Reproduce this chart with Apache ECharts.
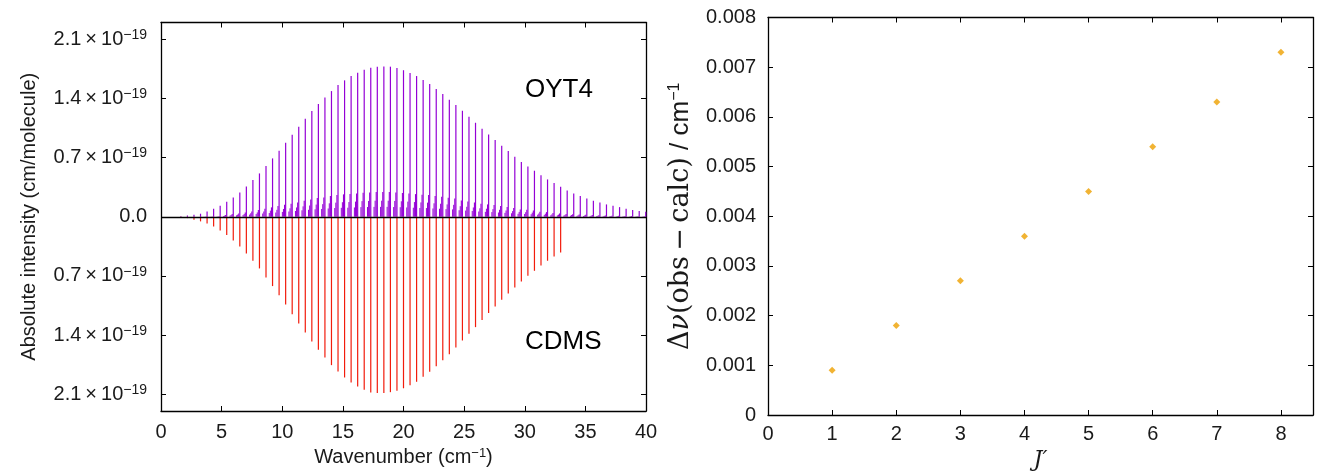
<!DOCTYPE html>
<html>
<head>
<meta charset="utf-8">
<script src="https://cdn.jsdelivr.net/npm/echarts@6/dist/echarts.min.js"></script>
<style>
html,body{margin:0;padding:0;background:#fff;}
#c{width:1327px;height:472px;}
</style>
</head>
<body>
<div id="c"></div>
<script>
// ---------- Left panel: stick spectrum (intensities in units of 1e-19 cm/molecule) ----------
var lineWavenumbers = [1.64,2.18,2.72,3.26,3.80,4.34,4.88,5.42,5.96,6.50,7.04,7.58,8.12,8.66,9.20,9.74,
  10.28,10.82,11.36,11.90,12.44,12.98,13.52,14.06,14.60,15.14,15.68,16.22,16.76,17.30,17.84,18.38,18.92,19.46,
  20.00,20.54,21.08,21.62,22.16,22.70,23.24,23.78,24.32,24.86,25.40,25.94,26.48,27.02,27.56,28.10,28.64,29.18,
  29.72,30.26,30.80,31.34,31.88,32.42,32.96,33.50,34.04,34.58,35.12,35.66,36.20,36.74,37.28,37.82,38.36,38.90,
  39.44,39.98];
var oyt4Main = [0.005,0.015,0.024,0.036,0.063,0.095,0.130,0.178,0.229,0.288,0.359,0.434,0.513,0.600,0.691,0.782,
  0.876,0.971,1.066,1.161,1.251,1.334,1.413,1.488,1.559,1.615,1.666,1.705,1.741,1.765,1.777,1.780,1.777,1.761,
  1.735,1.702,1.666,1.619,1.571,1.512,1.453,1.386,1.323,1.255,1.184,1.113,1.042,0.975,0.908,0.841,0.778,0.711,
  0.647,0.596,0.545,0.490,0.442,0.399,0.355,0.312,0.276,0.245,0.217,0.190,0.170,0.146,0.130,0.114,0.095,0.079,
  0.067,0.059];
var oyt4Hot1 = [0,0,0,0,0.002,0.003,0.006,0.020,0.032,0.039,0.051,0.063,0.079,0.095,0.111,0.126,0.142,0.154,
  0.170,0.190,0.205,0.221,0.229,0.245,0.257,0.265,0.268,0.276,0.284,0.288,0.292,0.292,0.292,0.288,0.282,0.276,
  0.268,0.261,0.257,0.245,0.237,0.225,0.217,0.193,0.182,0.170,0.154,0.146,0.138,0.126,0.114,0.103,0.087,0.083,
  0.075,0.059,0.055,0.043,0.039,0.034,0.030,0.026,0.023,0.020,0.017,0.015,0.013,0.011,0.009,0.008,0.007,0.006];
var oyt4Hot2 = [0,0,0,0,0.001,0.002,0.004,0.013,0.021,0.025,0.033,0.041,0.051,0.062,0.072,0.082,0.092,0.100,
  0.110,0.123,0.133,0.144,0.149,0.159,0.167,0.172,0.174,0.179,0.185,0.187,0.190,0.190,0.190,0.187,0.183,0.179,
  0.174,0.170,0.167,0.159,0.154,0.146,0.141,0.125,0.118,0.110,0.100,0.095,0.090,0.082,0.074,0.067,0.057,0.054,
  0.049,0.038,0.036,0.028,0.025,0.022,0.020,0.017,0.015,0.013,0.011,0.010,0.008,0.007,0.006,0.005,0.005,0.004];
var oyt4Hot3 = [0,0,0,0,0.001,0.001,0.002,0.008,0.013,0.016,0.020,0.025,0.032,0.038,0.044,0.050,0.057,0.062,
  0.068,0.076,0.082,0.088,0.092,0.098,0.103,0.106,0.107,0.110,0.114,0.115,0.117,0.117,0.117,0.115,0.113,0.110,
  0.107,0.104,0.103,0.098,0.095,0.090,0.087,0.077,0.073,0.068,0.062,0.058,0.055,0.050,0.046,0.041,0.035,0.033,
  0.030,0.024,0.022,0.017,0.016,0.014,0.012,0.010,0.009,0.008,0.007,0.006,0.005,0.004,0.004,0.003,0.003,0.002];
var hotBandShift = [-0.09, -0.18, -0.27]; // wavenumber shift of satellite lines
var cdmsMain = [0.005,0.016,0.036,0.055,0.079,0.114,0.162,0.217,0.280,0.351,0.434,0.521,0.612,0.719,0.821,0.928,
  1.038,1.153,1.263,1.370,1.476,1.575,1.666,1.757,1.832,1.903,1.962,2.009,2.049,2.080,2.088,2.088,2.077,2.061,
  2.031,1.994,1.954,1.895,1.836,1.769,1.698,1.627,1.548,1.465,1.386,1.307,1.224,1.141,1.062,0.983,0.908,0.837,
  0.766,0.699,0.640,0.576,0.521,0.470,0.422];
var intensityTicks = [-2.1,-1.4,-0.7,0,0.7,1.4,2.1];

// ---------- Right panel: residuals ----------
var jPrime = [1,2,3,4,5,6,7,8];
var residuals = [0.0009,0.0018,0.0027,0.0036,0.0045,0.0054,0.0063,0.0073];

var SANS = '"Liberation Sans", Arial, Helvetica, sans-serif';
var SERIF = '"DejaVu Serif", "Liberation Serif", serif';
var TXT = '#1a1a1a';

function pairs(xs, ys, shift, sign){
  var out = [];
  for (var i = 0; i < ys.length; i++) out.push([xs[i] + shift, sign * ys[i]]);
  return out;
}
function stick(color, width){
  return function(params, api){
    var x = api.value(0), y = api.value(1);
    var p0 = api.coord([x, 0]), p1 = api.coord([x, y]);
    return {type:'line', shape:{x1:p0[0], y1:p0[1], x2:p1[0], y2:p1[1]},
            style:{stroke:color, lineWidth:width}};
  };
}
function stickSeries(name, data, color, width, extra){
  var s = {name:name, type:'custom', xAxisIndex:0, yAxisIndex:0, data:data,
    encode:{x:0, y:1}, renderItem:stick(color, width), silent:true, animation:false};
  if (extra) for (var k in extra) s[k] = extra[k];
  return s;
}

var frameLine = {show:true, onZero:false, lineStyle:{color:'#000', width:1.3}};
var tickIn = {show:true, inside:true, length:5, lineStyle:{color:'#000', width:1}};
var PURPLE = '#9400d6', RED = '#f21c0c';

var option = {
  backgroundColor:'#fff',
  animation:false,
  grid:[
    {left:161, top:22.5, right:681, bottom:61, containLabel:false, outerBoundsMode:'none'},
    {left:768, top:17.5, right:14, bottom:57, containLabel:false, outerBoundsMode:'none'}
  ],
  xAxis:[
    {gridIndex:0, type:'value', min:0, max:40, interval:5, position:'bottom',
     axisLine:frameLine, axisTick:tickIn, splitLine:{show:false},
     axisLabel:{fontSize:20, fontFamily:SANS, color:TXT, margin:11},
     name:'{a|Wavenumber (cm}{s|−1}{a|)}', nameLocation:'middle', nameGap:33,
     nameTextStyle:{rich:{a:{fontSize:20, fontFamily:SANS, color:TXT, lineHeight:22},
                          s:{fontSize:13, fontFamily:SANS, color:TXT, verticalAlign:'top', lineHeight:13}}}},
    {gridIndex:0, type:'value', min:0, max:40, interval:5, position:'top',
     axisLine:frameLine, axisTick:tickIn, axisLabel:{show:false}, splitLine:{show:false}},
    {gridIndex:1, type:'value', min:0, max:8.5, interval:1, position:'bottom',
     axisLine:frameLine, axisTick:tickIn, splitLine:{show:false},
     axisLabel:{fontSize:20, fontFamily:SANS, color:TXT, margin:9, showMaxLabel:false},
     name:'J′', nameLocation:'middle', nameGap:33,
     nameTextStyle:{fontSize:22, fontFamily:SERIF, fontStyle:'italic', color:TXT}},
    {gridIndex:1, type:'value', min:0, max:8.5, interval:1, position:'top',
     axisLine:frameLine, axisTick:tickIn, axisLabel:{show:false}, splitLine:{show:false}}
  ],
  yAxis:[
    {gridIndex:0, type:'value', min:-2.3, max:2.3, position:'left',
     axisLine:frameLine,
     axisTick:{show:true, inside:true, length:5, lineStyle:{color:'#000', width:1}, customValues:intensityTicks},
     splitLine:{show:false},
     axisLabel:{customValues:intensityTicks, margin:14,
       formatter:function(v){
         if (Math.abs(v) < 1e-9) return '{m|0.0}';
         return '{m|' + Math.abs(v).toFixed(1) + '\u2009×\u200910}{s|−19}';
       },
       rich:{m:{fontSize:20, fontFamily:SANS, color:TXT, lineHeight:22},
             s:{fontSize:14, fontFamily:SANS, color:TXT, verticalAlign:'top', lineHeight:14}}},
     name:'Absolute intensity (cm/molecule)', nameLocation:'middle', nameGap:122, nameRotate:90,
     nameTextStyle:{fontSize:20, fontFamily:SANS, color:TXT}},
    {gridIndex:0, type:'value', min:-2.3, max:2.3, position:'right',
     axisLine:frameLine,
     axisTick:{show:true, inside:true, length:5, lineStyle:{color:'#000', width:1}, customValues:intensityTicks},
     axisLabel:{show:false}, splitLine:{show:false}},
    {gridIndex:1, type:'value', min:0, max:0.008, interval:0.001, position:'left',
     axisLine:frameLine, axisTick:tickIn, splitLine:{show:false},
     axisLabel:{fontSize:20, fontFamily:SANS, color:TXT, margin:12},
     name:'{d|Δ}{g|ν}{r|(obs\u2009−\u2009calc)}{a| / cm}{s|−1}', nameLocation:'middle', nameGap:73, nameRotate:90,
     nameTextStyle:{rich:{
       d:{fontSize:27, fontFamily:SERIF, color:TXT, lineHeight:28},
       g:{fontSize:27, fontFamily:SERIF, fontStyle:'italic', color:TXT, lineHeight:28},
       r:{fontSize:27, fontFamily:SERIF, color:TXT, lineHeight:28},
       a:{fontSize:26, fontFamily:SANS, color:TXT, lineHeight:28},
       s:{fontSize:16, fontFamily:SANS, color:TXT, verticalAlign:'top', lineHeight:16}}}},
    {gridIndex:1, type:'value', min:0, max:0.008, interval:0.001, position:'right',
     axisLine:frameLine, axisTick:tickIn, axisLabel:{show:false}, splitLine:{show:false}}
  ],
  series:[
    stickSeries('OYT4 hot 3', pairs(lineWavenumbers, oyt4Hot3, hotBandShift[2], 1), PURPLE, 1),
    stickSeries('OYT4 hot 2', pairs(lineWavenumbers, oyt4Hot2, hotBandShift[1], 1), PURPLE, 1),
    stickSeries('OYT4 hot 1', pairs(lineWavenumbers, oyt4Hot1, hotBandShift[0], 1), PURPLE, 1.1),
    stickSeries('CDMS', pairs(lineWavenumbers, cdmsMain, 0, -1), RED, 1.2, {
      markLine:{silent:true, symbol:'none', label:{show:false}, animation:false,
        lineStyle:{color:'#000', width:1.3, type:'solid'}, data:[{yAxis:0}]}
    }),
    stickSeries('OYT4', pairs(lineWavenumbers, oyt4Main, 0, 1), PURPLE, 1.2),
    {name:'residuals', type:'scatter', xAxisIndex:2, yAxisIndex:2,
     data:jPrime.map(function(j, i){ return [j, residuals[i]]; }),
     symbol:'diamond', symbolSize:7, itemStyle:{color:'#eea000'}, silent:true, animation:false}
  ],
  graphic:[
    {type:'text', left:525, top:77, style:{text:'OYT4', font:'26px "Liberation Sans", Arial, sans-serif', fill:'#000'}},
    {type:'text', left:525, top:329, style:{text:'CDMS', font:'26px "Liberation Sans", Arial, sans-serif', fill:'#000'}}
  ]
};

var chart = echarts.init(document.getElementById('c'), null, {renderer:'canvas'});
chart.setOption(option);
</script>
</body>
</html>
